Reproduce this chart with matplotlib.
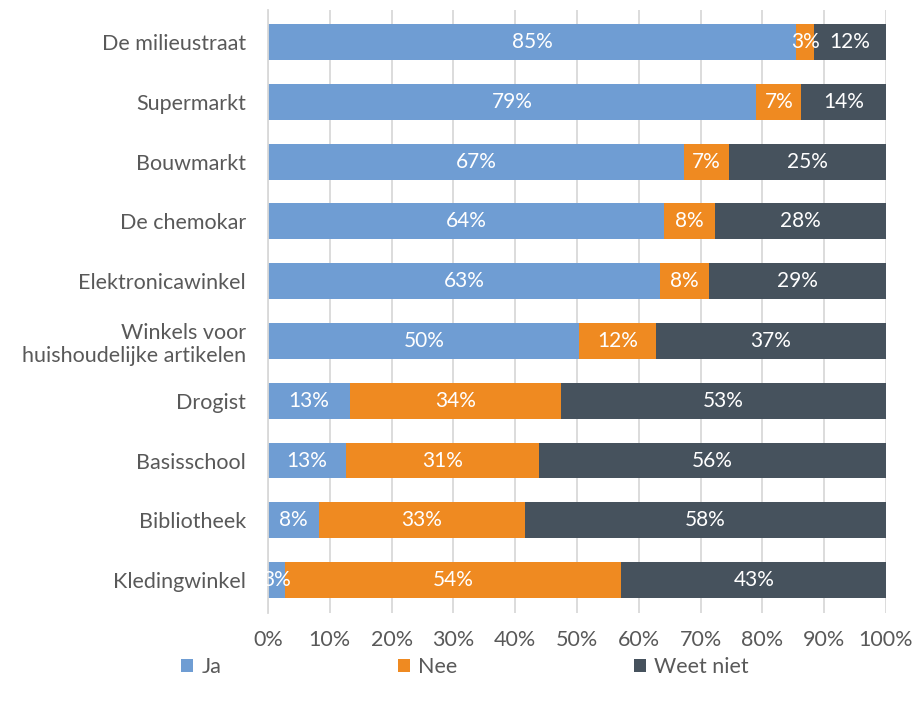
import numpy as np
import matplotlib.pyplot as plt

plt.rcParams['font.family'] = ['Lato', 'DejaVu Sans']

# Categories (top to bottom) and shares per answer, in percent
categories = ['De milieustraat', 'Supermarkt', 'Bouwmarkt', 'De chemokar',
              'Elektronicawinkel', 'Winkels voor\nhuishoudelijke artikelen',
              'Drogist', 'Basisschool', 'Bibliotheek', 'Kledingwinkel']
ja = [85.4, 79.0, 67.3, 64.1, 63.4, 50.4, 13.2, 12.6, 8.2, 2.8]
nee = [3.0, 7.3, 7.3, 8.2, 8.0, 12.4, 34.2, 31.2, 33.4, 54.4]
weet_niet = [11.6, 13.7, 25.4, 27.7, 28.6, 37.2, 52.6, 56.2, 58.4, 42.8]
series_names = ['Ja', 'Nee', 'Weet niet']
colors = ['#6f9dd3', '#ef8a21', '#46525d']
xticks = [0, 10, 20, 30, 40, 50, 60, 70, 80, 90, 100]

fig = plt.figure(figsize=(9.15, 7.06), dpi=100)
ax = fig.add_axes([268 / 915, 1 - 613 / 706, 618 / 915, 603 / 706])

y = np.arange(len(categories))
left = np.zeros(len(categories))
for name, vals, col in zip(series_names, [ja, nee, weet_niet], colors):
    vals = np.array(vals)
    ax.barh(y, vals, left=left, height=0.6, color=col, label=name, zorder=2)
    for yi, l, v in zip(y, left, vals):
        ax.text(l + v / 2, yi, f'{v:.0f}%', ha='center', va='center',
                color='white', fontsize=15, zorder=3)
    left += vals

ax.set_xlim(0, 100)
ax.set_ylim(9.55, -0.535)
ax.set_yticks(y)
ax.set_yticklabels(categories, fontsize=15.5, color='#595959', linespacing=1.2)
ax.set_xticks(xticks)
ax.set_xticklabels([f'{t}%' for t in xticks], fontsize=15.5, color='#595959')
ax.tick_params(length=0)
ax.tick_params(axis='y', pad=16)
ax.tick_params(axis='x', pad=12)
ax.grid(axis='x', color='#d9d9d9', linewidth=1.3, zorder=0)
for s in ['top', 'right', 'bottom']:
    ax.spines[s].set_visible(False)
ax.spines['left'].set_color('#d9d9d9')
ax.spines['left'].set_linewidth(1.3)

fig.legend(loc='center', bbox_to_anchor=(465 / 915, 1 - 667 / 706), ncol=3,
           frameon=False, fontsize=15.5, labelcolor='#595959',
           handlelength=0.55, handleheight=0.55, handletextpad=0.4,
           columnspacing=8.2)

fig.savefig('out.png', dpi=100)
